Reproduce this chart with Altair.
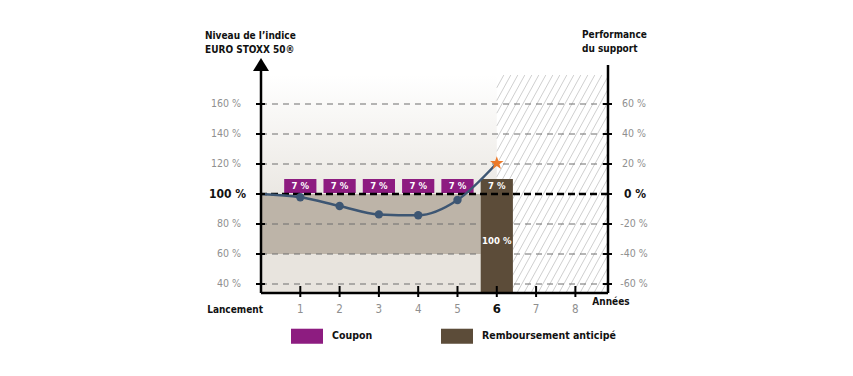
import altair as alt
import pandas as pd
import numpy as np

# ---------------- data ----------------
years = [0, 1, 2, 3, 4, 5, 6]
index_level = [100, 97.8, 92, 86.4, 85.8, 96, 120.5]
coupon_years = [1, 2, 3, 4, 5]
coupon_text = ["7 %", "7 %", "7 %", "7 %", "7 %"]
redemption_year = 6
redemption_coupon = "7 %"
redemption_capital = "100 %"
left_ticks = [40, 60, 80, 100, 120, 140, 160]
left_labels = ["40 %", "60 %", "80 %", "100 %", "120 %", "140 %", "160 %"]
right_labels = ["-60 %", "-40 %", "-20 %", "0 %", "20 %", "40 %", "60 %"]
x_ticks = [1, 2, 3, 4, 5, 6, 7, 8]
x_labels = ["1", "2", "3", "4", "5", "6", "7", "8"]
legend_items = ["Coupon", "Remboursement anticipé"]

FONT = "'DejaVu Sans Condensed', Roboto, sans-serif"
PURPLE = "#8d1c80"
BROWN = "#5c4c39"
LINE = "#3d5673"
STAR = "#ec7a2a"
GREY_TXT = "#8f8f8f"
STAR_PATH = ("M0,-1L0.235,-0.324L0.951,-0.309L0.38,0.124L0.588,0.809L0,0.4"
             "L-0.588,0.809L-0.38,0.124L-0.951,-0.309L-0.235,-0.324Z")

XMIN, XMAX = 0, 8.83
YMIN, YMAX = 34, 190.67
W, H = 347, 235
xs = alt.Scale(domain=[XMIN, XMAX], nice=False, zero=False)
ys = alt.Scale(domain=[YMIN, YMAX], nice=False, zero=False)


def X(f):
    return alt.X(f, type="quantitative", scale=xs, axis=None)


def Y(f):
    return alt.Y(f, type="quantitative", scale=ys, axis=None)


# ---------------- background ----------------
bg = pd.DataFrame({
    "x0": [0, 0], "x1": [5.59, 5.59], "y0": [YMIN, 60], "y1": [100, 100],
    "c": ["#e8e4de", "#bdb4a8"],
})
bg_layer = alt.Chart(bg).mark_rect().encode(
    x=X("x0"), x2="x1", y=Y("y0"), y2="y1",
    color=alt.Color("c:N", scale=None),
)
grad = pd.DataFrame({"x0": [0], "x1": [6], "y0": [100], "y1": [179.3]})
grad_layer = alt.Chart(grad).mark_rect(
    fill=alt.Gradient(
        gradient="linear",
        stops=[alt.GradientStop(color="#ffffff", offset=0),
               alt.GradientStop(color="#ebe8e3", offset=1)],
        x1=0, x2=0, y1=0, y2=1,
    )
).encode(x=X("x0"), x2="x1", y=Y("y0"), y2="y1")

# hatch lines in the region after year 6 (decoration)
pxx = W / (XMAX - XMIN)
pxy = H / (YMAX - YMIN)
RW = (XMAX - 6) * pxx
RH = (179.3 - YMIN) * pxy
k = 0.55
segs = []
for c in np.arange(-k * RH, RW, 7.0):
    v0 = max(0.0, -c / k)
    v1 = min(RH, (RW - c) / k)
    if v1 > v0:
        segs.append({"x0": 6 + (c + k * v0) / pxx, "y0": YMIN + v0 / pxy,
                     "x1": 6 + (c + k * v1) / pxx, "y1": YMIN + v1 / pxy})
hatch_layer = alt.Chart(pd.DataFrame(segs)).mark_rule(
    color="#cfcfcf", strokeWidth=1
).encode(x=X("x0"), x2="x1", y=Y("y0"), y2="y1")

# ---------------- grid ----------------
grid_vals = [v for v in left_ticks if v != 100]
grid_layer = alt.Chart(pd.DataFrame({"v": grid_vals})).mark_rule(
    color="#6f6f6f", strokeWidth=1, strokeDash=[6, 5]
).encode(y=Y("v"))
base_layer = alt.Chart(pd.DataFrame({"v": [100]})).mark_rule(
    color="#000000", strokeWidth=2.5, strokeDash=[7, 4]
).encode(y=Y("v"))

# ---------------- bars ----------------
bars = pd.DataFrame({
    "x0": [y - 0.41 for y in coupon_years] + [redemption_year - 0.41],
    "x1": [y + 0.41 for y in coupon_years] + [redemption_year + 0.41],
    "y0": [100.7] * len(coupon_years) + [YMIN],
    "y1": [110] * len(coupon_years) + [110],
    "type": [legend_items[0]] * len(coupon_years) + [legend_items[1]],
})
bar_layer = alt.Chart(bars).mark_rect().encode(
    x=X("x0"), x2="x1", y=Y("y0"), y2="y1",
    color=alt.Color(
        "type:N",
        scale=alt.Scale(domain=legend_items, range=[PURPLE, BROWN]),
        legend=alt.Legend(
            title=None, orient="none", legendX=30, legendY=262,
            direction="horizontal",
            symbolType="M-1,-0.47L1,-0.47L1,0.47L-1,0.47Z",
            symbolSize=1024, symbolStrokeWidth=0, symbolOpacity=1,
            labelFont=FONT, labelFontSize=10.5, labelColor="#111111",
            labelFontWeight="bold", labelOffset=9, columnPadding=68,
        ),
    ),
)
bar_txt = pd.DataFrame({
    "x": coupon_years + [redemption_year, redemption_year],
    "y": [105.3] * len(coupon_years) + [105.3, 69],
    "t": coupon_text + [redemption_coupon, redemption_capital],
})
bar_txt_layer = alt.Chart(bar_txt).mark_text(
    color="white", font=FONT, fontSize=9.5, fontWeight="bold"
).encode(x=X("x"), y=Y("y"), text="t:N")

# ---------------- index line ----------------
line_df = pd.DataFrame({"year": years, "level": index_level})
line_layer = alt.Chart(line_df).mark_line(
    color=LINE, strokeWidth=2.5, interpolate="monotone"
).encode(x=X("year"), y=Y("level"))
pts_df = line_df[(line_df.year >= 1) & (line_df.year <= 5)].reset_index(drop=True)
pts_layer = alt.Chart(pts_df).mark_circle(
    color=LINE, size=70, opacity=1
).encode(x=X("year"), y=Y("level"))
star_df = line_df[line_df.year == 6].reset_index(drop=True)
star_layer = alt.Chart(star_df).mark_point(
    shape=STAR_PATH, filled=True, color=STAR, size=200, opacity=1
).encode(x=X("year"), y=Y("level"))

# ---------------- axes ----------------
ax_df = pd.DataFrame({
    "x0": [0, XMAX, 0], "x1": [0, XMAX, XMAX],
    "y0": [YMIN, YMIN, YMIN], "y1": [182, 186, YMIN],
})
axes_layer = alt.Chart(ax_df).mark_rule(color="black", strokeWidth=2.5).encode(
    x=X("x0"), x2="x1", y=Y("y0"), y2="y1"
)
arrow_layer = alt.Chart(pd.DataFrame({"x": [0], "y": [186.3]})).mark_point(
    shape="M0,-0.8125L1,0.8125L-1,0.8125Z", filled=True, color="black",
    size=256, opacity=1
).encode(x=X("x"), y=Y("y"))
lt_df = pd.DataFrame({"v": left_ticks})
lticks = alt.Chart(lt_df).mark_rule(color="black", strokeWidth=2).encode(
    y=Y("v"), x=alt.value(-5), x2=alt.value(4)
)
rticks = alt.Chart(lt_df).mark_rule(color="black", strokeWidth=2).encode(
    y=Y("v"), x=alt.value(W - 5), x2=alt.value(W + 4)
)
xt_df = pd.DataFrame({"v": x_ticks})
xticks = alt.Chart(xt_df).mark_rule(color="black", strokeWidth=2).encode(
    x=X("v"), y=alt.value(H - 7), y2=alt.value(H + 4)
)

# ---------------- labels ----------------
ll = pd.DataFrame({"v": left_ticks, "t": left_labels, "r": right_labels})
ll_norm = ll[ll.v != 100].reset_index(drop=True)
ll_bold = ll[ll.v == 100].reset_index(drop=True)
left_txt = alt.Chart(ll_norm).mark_text(
    align="right", baseline="middle", font=FONT, fontSize=10.5, color=GREY_TXT
).encode(y=Y("v"), x=alt.value(-20), text="t:N")
left_bold = alt.Chart(ll_bold).mark_text(
    align="right", baseline="middle", font=FONT, fontSize=12, fontWeight="bold",
    color="#111111"
).encode(y=Y("v"), x=alt.value(-15), text="t:N")
right_txt = alt.Chart(ll_norm).mark_text(
    align="center", baseline="middle", font=FONT, fontSize=10.5, color=GREY_TXT
).encode(y=Y("v"), x=alt.value(373), text="r:N")
right_bold = alt.Chart(ll_bold).mark_text(
    align="center", baseline="middle", font=FONT, fontSize=12, fontWeight="bold",
    color="#111111"
).encode(y=Y("v"), x=alt.value(374), text="r:N")

xl = pd.DataFrame({"v": x_ticks, "t": x_labels})
x_txt = alt.Chart(xl[xl.v != 6].reset_index(drop=True)).mark_text(
    baseline="middle", font=FONT, fontSize=11.5, color=GREY_TXT
).encode(x=X("v"), y=alt.value(252), text="t:N")
x_bold = alt.Chart(xl[xl.v == 6].reset_index(drop=True)).mark_text(
    baseline="middle", font=FONT, fontSize=13, fontWeight="bold", color="#111111"
).encode(x=X("v"), y=alt.value(251), text="t:N")

misc_text = ["Lancement", "Années", "Niveau de l’indice", "EURO STOXX 50®",
             "Performance", "du support"]
misc_px = [2, 350, -56, -56, 321, 321]
misc_py = [252, 244, -22, -8, -23, -9]
misc_align = ["right", "center", "left", "left", "left", "left"]
misc_layers = []
for t, px, py, al in zip(misc_text, misc_px, misc_py, misc_align):
    misc_layers.append(
        alt.Chart(pd.DataFrame({"t": [t]})).mark_text(
            align=al, baseline="middle", font=FONT, fontSize=10,
            fontWeight="bold", color="#111111"
        ).encode(x=alt.value(px), y=alt.value(py), text="t:N")
    )

chart = alt.layer(
    bg_layer, grad_layer, hatch_layer, grid_layer, bar_layer, base_layer,
    bar_txt_layer, line_layer, pts_layer, star_layer,
    axes_layer, arrow_layer, lticks, rticks, xticks,
    left_txt, left_bold, right_txt, right_bold, x_txt, x_bold, *misc_layers,
).properties(
    width=W, height=H, background="white",
    autosize=alt.AutoSizeParams(type="none"),
    padding={"left": 253, "top": 50, "right": 237, "bottom": 75},
).configure_view(stroke=None)

chart.save("out.html", embed_options={"renderer": "svg", "actions": False})
